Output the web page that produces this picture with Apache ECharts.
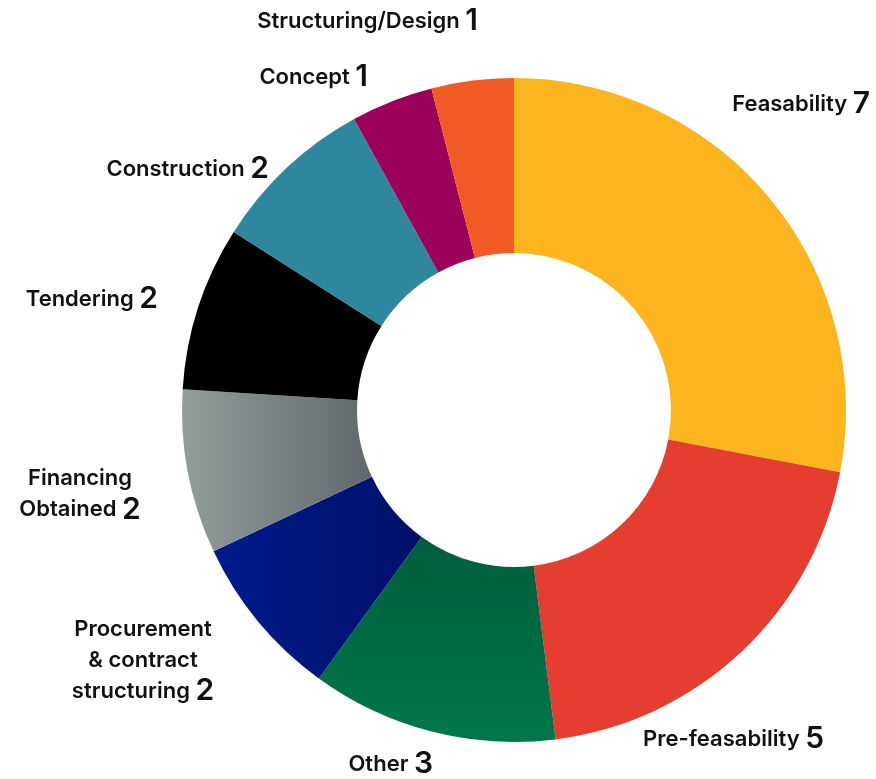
<!DOCTYPE html>
<html>
<head>
<meta charset="utf-8">
<script src="https://cdn.jsdelivr.net/npm/echarts@6/dist/echarts.min.js"></script>
<style>
  html, body { margin: 0; padding: 0; background: #fff; }
  #chart { width: 876px; height: 779px; }
</style>
</head>
<body>
<div id="chart"></div>
<script>
const stages = ['Feasability', 'Pre-feasability', 'Other', 'Procurement\n& contract\nstructuring', 'Financing\nObtained', 'Tendering', 'Construction', 'Concept', 'Structuring/Design']
const counts = [7, 5, 3, 2, 2, 2, 2, 1, 1]
const colors = ['#FDB51F', '#E53E30', '#00754A', '#001A8A', '#8F9997', '#000000', '#2E879C', '#9B005B', '#F15A25']

// where each label sits (x, y of the text block, alignment)
const labelSpots = [
  {x: 870, y: 104, align: 'right'},
  {x: 824, y: 739, align: 'right'},
  {x: 433, y: 764, align: 'right'},
  {x: 143, y: 660, align: 'center'},
  {x: 80, y: 494, align: 'center'},
  {x: 158, y: 299, align: 'right'},
  {x: 269, y: 169, align: 'right'},
  {x: 368, y: 77, align: 'right'},
  {x: 478, y: 21, align: 'right'}
]

const chart = echarts.init(document.getElementById('chart'))

function grad(c1, c2, x2, y2) {
  return new echarts.graphic.LinearGradient(0, 0, x2, y2, [
    {offset: 0, color: c1},
    {offset: 1, color: c2}
  ])
}

const fills = colors.slice()
fills[4] = grad('#939D9B', '#60686C', 1, 0)
fills[3] = grad('#001B8E', '#001068', 1, 0)
fills[2] = new echarts.graphic.LinearGradient(0, 1, 0, 0, [
  {offset: 0, color: '#00774B'},
  {offset: 1, color: '#005E3C'}
])

const option = {
  animation: false,
  series: [{
    type: 'pie',
    center: [514, 410],
    radius: [157, 332],
    startAngle: 90,
    clockwise: true,
    data: stages.map((s, i) => ({
      name: s,
      value: counts[i],
      itemStyle: {color: fills[i]}
    })),
    itemStyle: {borderWidth: 0},
    labelLine: {show: false},
    label: {
      position: 'outside',
      overflow: 'none',
      align: 'center',
      formatter: p => {
        const parts = p.name.split('\n')
        const last = parts.pop()
        return parts.map(t => '{n|' + t + '}').concat('{n|' + last + ' }{v|' + p.value + '}').join('\n')
      },
      rich: {
        n: {fontFamily: 'Inter', fontWeight: 600, fontSize: 22, color: '#111', lineHeight: 31},
        v: {fontFamily: 'Inter', fontWeight: 600, fontSize: 30, color: '#111', lineHeight: 31}
      }
    },
    labelLayout: p => {
      const s = labelSpots[p.dataIndex]
      return {x: s.x, y: s.y, align: s.align, verticalAlign: 'middle'}
    }
  }]
}
chart.setOption(option)
</script>
</body>
</html>
